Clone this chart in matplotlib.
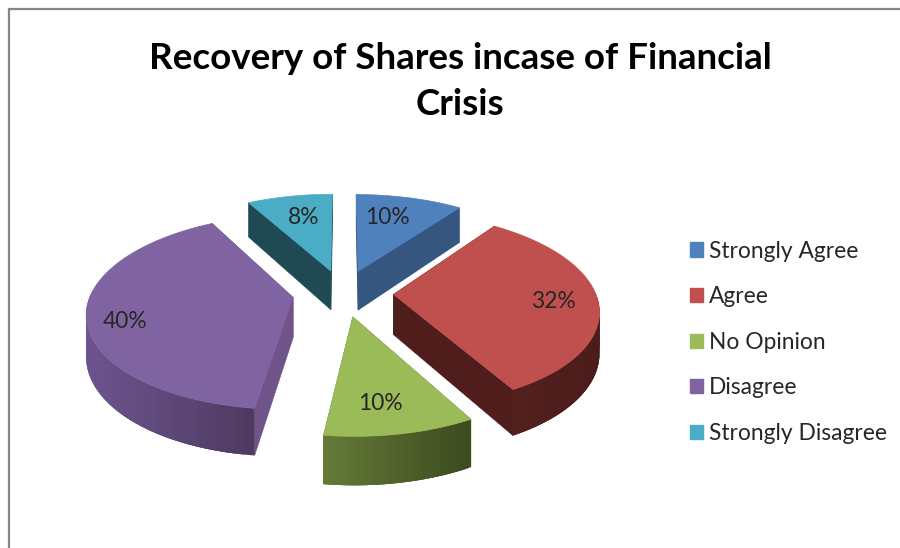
import numpy as np
import matplotlib
matplotlib.use("Agg")
import matplotlib.pyplot as plt
from matplotlib.patches import Polygon, Patch
from matplotlib.colors import to_rgb

title = "Recovery of Shares incase of Financial\nCrisis"
categories = ["Strongly Agree", "Agree", "No Opinion", "Disagree", "Strongly Disagree"]
percents = [10, 32, 10, 40, 8]
top_colors = ["#4F81BD", "#C0504D", "#9BBB59", "#8064A2", "#4BACC6"]
cut_colors = ["#34567F", "#4F1E1C", "#5F7234", "#6E5488", "#1F4A54"]
band_left = ["#34567F", "#55211F", "#657A38", "#6D5490", "#1F4A54"]
band_right = ["#34567F", "#4A1C1A", "#3C4A1E", "#4E3A60", "#1F4A54"]
label_pos = [(387, 218), (554, 302), (380, 404), (125, 321), (304, 217)]

# pie geometry in pixels
cx, cy = 343, 293
rx, ry = 202, 94
persp = 0.147
explode = 0.25
depth = 40

plt.rcParams["font.family"] = ["Lato", "DejaVu Sans"]

fig = plt.figure(figsize=(9, 5.48), dpi=100)
ax = fig.add_axes([0, 0, 1, 1])
ax.set_xlim(0, 900)
ax.set_ylim(548, 0)
ax.axis("off")

# chart frame
ax.plot([9, 9, 900], [548, 9, 9], color="#868686", lw=1.6, solid_joinstyle="miter")


def project(u, v, low=False):
    s = 1 / (1 - persp * v)
    x = cx + rx * u * s
    y = cy + ry * v * s
    if low:
        y = y + depth * s
    return x, y


def wedge_path(start, stop, n=60):
    mid = np.radians((start + stop) / 2)
    ou = explode * np.sin(mid)
    ov = -explode * np.cos(mid)
    ang = np.radians(np.linspace(start, stop, n))
    return ou, ov, ou + np.sin(ang), ov - np.cos(ang), ang


def add_poly(pts, color, z, lw=0.5):
    ax.add_patch(Polygon(pts, closed=True, facecolor=color, edgecolor=color if lw else "none", lw=lw, zorder=z))


def draw_wedge(start, stop, i, z):
    ou, ov, u, v, ang = wedge_path(start, stop)

    # cut faces
    for k in (0, -1):
        pts = [project(ou, ov), project(u[k], v[k]), project(u[k], v[k], True), project(ou, ov, True)]
        add_poly(pts, cut_colors[i], z)

    # outer band, light to dark from left to right. strips overlap so no seams show
    xs = [project(a, b)[0] for a, b in zip(u, v)]
    c0, c1 = np.array(to_rgb(band_left[i])), np.array(to_rgb(band_right[i]))
    xmin, xmax = min(xs), max(xs)
    for k in range(len(u) - 1):
        if np.cos(ang[k]) > 0 and np.cos(ang[k + 1]) > 0:
            continue
        t = ((xs[k] + xs[k + 1]) / 2 - xmin) / max(xmax - xmin, 1)
        e = min(k + 3, len(u) - 1)
        low = [project(u[j], v[j], True) for j in range(k, e + 1)]
        pts = [project(u[j], v[j]) for j in range(k, e + 1)] + low[::-1]
        add_poly(pts, tuple(c0 + (c1 - c0) * t), z + 0.1 + k * 0.0001, lw=0)

    # top face
    pts = [project(ou, ov)] + [project(a, b) for a, b in zip(u, v)]
    add_poly(pts, top_colors[i], z + 0.2)


edges = np.concatenate([[0], np.cumsum(percents)]) * 3.6
order = [4, 0, 3, 1, 2]
for z, i in enumerate(order):
    draw_wedge(edges[i], edges[i + 1], i, z + 1)

for i in range(len(percents)):
    ax.text(label_pos[i][0], label_pos[i][1], "%d%%" % percents[i], fontsize=16.4,
            color="#262626", ha="center", va="center", zorder=10)

ax.text(460, 81.5, title, fontsize=26.5, fontweight="bold", color="black",
        ha="center", va="center", linespacing=1.47)

handles = [Patch(facecolor=c, edgecolor=c) for c in top_colors]
leg = ax.legend(handles, categories, loc="upper left", bbox_to_anchor=(681 / 900, 1 - 231.5 / 548),
                frameon=False, fontsize=16.4, handlelength=0.58, handleheight=0.58,
                handletextpad=0.26, labelspacing=1.08, borderpad=0, borderaxespad=0.4,
                labelcolor="#262626")

fig.savefig("out.png", dpi=100)
